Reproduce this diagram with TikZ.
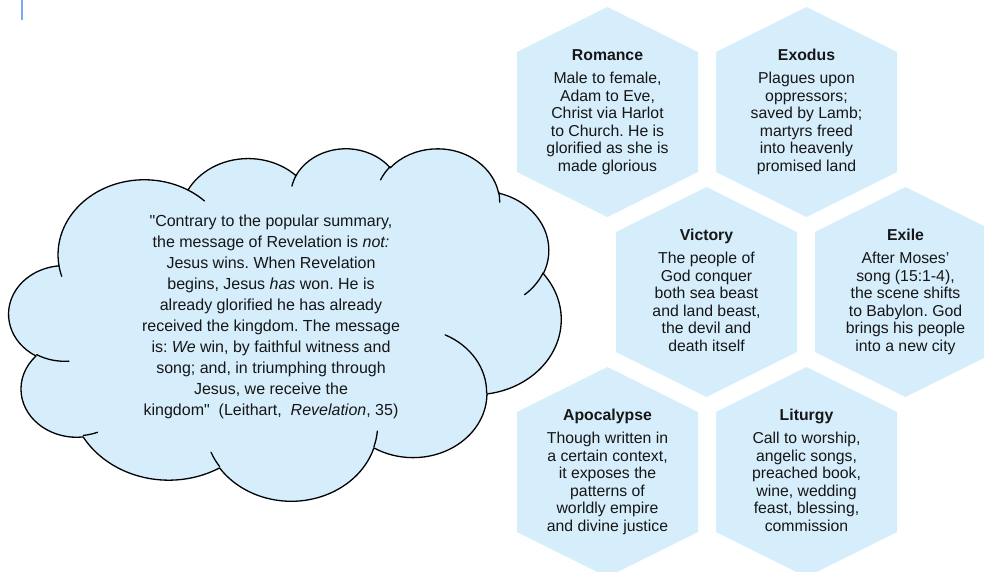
\documentclass[tikz,border=0pt]{standalone}
\usepackage{fontspec}
\setmainfont{Liberation Sans}[Ligatures=TeXOff]
\frenchspacing

\definecolor{hexfill}{RGB}{214,238,252}
\definecolor{cloudfill}{RGB}{214,238,252}
\definecolor{inktext}{RGB}{22,22,22}
\definecolor{markblue}{RGB}{122,170,245}

% flat light-blue hexagon (pointed top and bottom) centred on a coordinate
\newcommand\hexfillat[1]{%
  \fill[hexfill, shift={(#1)}] (0,-105) -- (90.5,-60) -- (90.5,60) -- (0,105)
    -- (-90.5,60) -- (-90.5,-60) -- cycle;}

\begin{document}
\begin{tikzpicture}[x=1pt, y=-1pt,
  % parametric angle of the ellipse point seen at angle \tha from its centre
  declare function={pang(\rxa,\rya,\tha)=atan2(\rxa*sin(\tha),\rya*cos(\tha));},
  % elliptical arc given by radii, start direction and sweep (degrees)
  oarc/.style n args={4}{x radius=#1, y radius=#2,
     start angle={pang(#1,#2,#3)},
     delta angle={mod(pang(#1,#2,#3+#4)-pang(#1,#2,#3)+720,360)}},
  hexlabel/.style={align=center, inner sep=0pt, text=inktext,
     font=\fontsize{15.8}{17.5}\selectfont},
  quotetext/.style={align=center, inner sep=0pt, text=inktext,
     font=\fontsize{16}{21}\selectfont},
  cloudline/.style={line width=1.3pt, draw=black, line join=round, line cap=round},
]
\useasboundingbox (0,0) rectangle (984,571);
\clip (0,0) rectangle (984,571);

% small blue mark in the top left corner
\draw[markblue, line width=2.6pt] (22,0) -- (22,20);

% ---------- thought cloud ----------
\begin{scope}[shift={(9,147.6)}, xscale=1.2778, yscale=0.8157]
  \path[cloudline, fill=cloudfill] (39.00,143.70)
    arc[oarc={67.53}{91.90}{-190.48748}{123.78053}]
    arc[oarc={53.33}{72.67}{-144.10238}{89.94523}]
    arc[oarc={43.65}{59.45}{-145.80792}{99.72302}]
    arc[oarc={48.57}{65.95}{-130.98607}{117.24173}]
    arc[oarc={53.33}{72.73}{-78.70888}{109.02692}]
    arc[oarc={67.75}{92.20}{-46.26725}{130.2690}]
    arc[oarc={57.85}{78.67}{0.62502}{114.03333}]
    arc[oarc={67.52}{92.15}{22.4516}{115.17255}]
    arc[oarc={77.20}{105.43}{66.24263}{75.71102}]
    arc[oarc={43.60}{59.18}{-274.94208}{146.73557}]
    arc[oarc={43.45}{59.45}{-246.8285}{152.52262}]
    -- cycle;
  % inner folds of the cloud
  \path[cloudline]
    (46.93,261.77) arc[oarc={43.45}{59.45}{86.742}{26.4295}]
    (69.28,348.99) arc[oarc={43.60}{59.18}{73.61047}{11.44747}]
    (164.78,390.90) arc[oarc={67.52}{92.15}{137.62415}{14.0811}]
    (288.27,347.51) arc[oarc={67.52}{92.15}{6.45327}{15.99835}]
    (341.29,229.54) arc[oarc={57.85}{78.67}{-70.29235}{70.91737}]
    (417.98,153.54) arc[oarc={53.33}{72.73}{30.31803}{27.7515}]
    (383.24,54.26) arc[oarc={48.57}{65.95}{-13.74433}{14.8589}]
    (290.78,39.52) arc[oarc={48.57}{65.95}{-149.18145}{18.19537}]
    (221.41,47.20) arc[oarc={43.65}{59.45}{-163.49427}{17.68635}]
    (140.00,51.92) arc[oarc={67.53}{91.90}{-66.70695}{12.31935}]
    (41.27,157.89) arc[oarc={67.53}{91.90}{157.65435}{11.85817}];
\end{scope}

\node[quotetext] (quote) at (271,317) {%
  "Contrary to the popular summary,\\
  the message of Revelation is \textit{not:}\\
  Jesus wins. When Revelation\\
  begins, Jesus \textit{has} won. He is\\
  already glorified he has already\\
  received the kingdom. The message\\
  is: \textit{We} win, by faithful witness and\\
  song; and, in triumphing through\\
  Jesus, we receive the\\
  kingdom"\ \ (Leithart,\ \ \textit{Revelation}, 35)};

% ---------- hexagon cells ----------
\coordinate (romance) at (607.5,112);
\coordinate (exodus) at (806.5,112);
\coordinate (victory) at (706.5,292);
\coordinate (exile) at (905.5,292);
\coordinate (apocalypse) at (607.5,472);
\coordinate (liturgy) at (806.5,472);

\hexfillat{romance}
\hexfillat{exodus}
\hexfillat{victory}
\hexfillat{exile}
\hexfillat{apocalypse}
\hexfillat{liturgy}

\node[hexlabel] (romance text) at (romance) {\textbf{Romance}\\[5.8pt]
  Male to female,\\Adam to Eve,\\Christ via Harlot\\to Church. He is\\
  glorified as she is\\made glorious};
\node[hexlabel] (exodus text) at (exodus) {\textbf{Exodus}\\[5.8pt]
  Plagues upon\\oppressors;\\saved by Lamb;\\martyrs freed\\
  into heavenly\\promised land};
\node[hexlabel] (victory text) at (victory) {\textbf{Victory}\\[5.8pt]
  The people of\\God conquer\\both sea beast\\and land beast,\\
  the devil and\\death itself\vphantom{g}};
\node[hexlabel] (exile text) at (exile) {\textbf{Exile}\\[5.8pt]
  After Moses’\\song (15:1-4),\\the scene shifts\\to Babylon. God\\
  brings his people\\into a new city};
\node[hexlabel] (apocalypse text) at (apocalypse) {\textbf{Apocalypse}\\[5.8pt]
  Though written in\\a certain context,\\it exposes the\\patterns of\\
  worldly empire\\and divine justice};
\node[hexlabel] (liturgy text) at (liturgy) {\textbf{Liturgy}\\[5.8pt]
  Call to worship,\\angelic songs,\\preached book,\\wine, wedding\\
  feast, blessing,\\commission\vphantom{g}};
\end{tikzpicture}
\end{document}
